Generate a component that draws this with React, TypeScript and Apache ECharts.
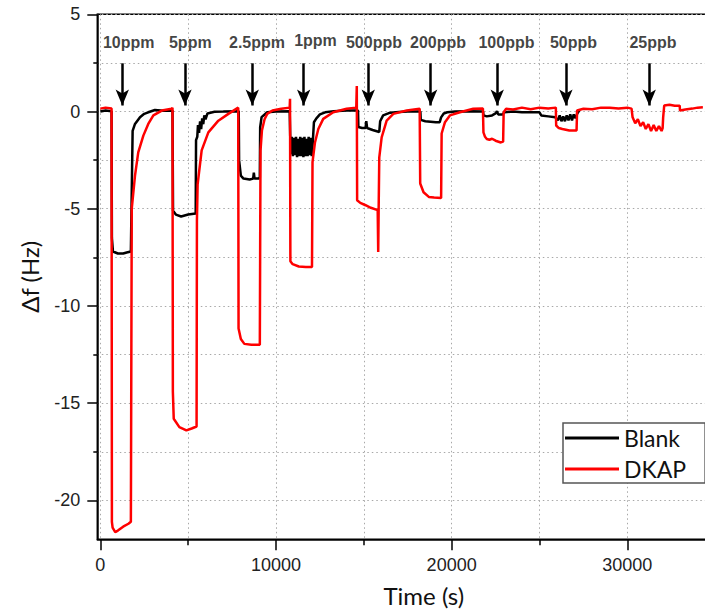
import React, { useEffect, useRef } from 'react';
import * as echarts from 'echarts';

// Blank sensor response: [time (s), Δf (Hz)]
const blankData: [number, number][] = [
  [0, 0.0], [300, 0.05], [640, 0.02],
  [660, -6.5], [720, -7.2], [1000, -7.3], [1300, -7.3], [1500, -7.25], [1740, -7.2],
  [1840, -1.0], [1975, -0.64], [2260, -0.29], [2500, -0.12], [2730, -0.04], [3110, 0.08], [3600, 0.04], [4110, 0.05],
  [4140, -5.1], [4300, -5.3], [4600, -5.4], [5000, -5.3], [5430, -5.25],
  [5450, -1.47], [5520, -1.3], [5560, -0.7], [5620, -1.1], [5680, -0.5], [5740, -0.9], [5800, -0.35], [5860, -0.65],
  [5920, -0.2], [5990, -0.4], [6100, -0.1], [6500, -0.01], [7000, 0.0], [7880, 0.02],
  [7900, -2.5], [8000, -3.3], [8150, -3.45], [8500, -3.5], [8700, -3.45], [8740, -3.15], [8780, -3.45], [9000, -3.45], [9080, -3.4],
  [9100, -0.81], [9180, -0.29], [9500, -0.04], [10000, 0.0], [10780, 0.02],
  [10810, -1.25], [10840, -2.2], [10900, -1.3], [10960, -2.3], [11020, -1.35], [11080, -2.25], [11140, -1.3], [11200, -2.35],
  [11260, -1.4], [11320, -2.3], [11380, -1.3], [11440, -2.3], [11500, -1.35], [11560, -2.35], [11620, -1.3], [11680, -2.3],
  [11740, -1.4], [11800, -2.3], [11860, -1.3], [11920, -2.25], [11980, -1.35], [12040, -2.3], [12100, -1.5],
  [12160, -0.55], [12300, -0.35], [12500, -0.15], [12800, -0.04], [13300, 0.02], [14000, 0.05], [14670, 0.05],
  [14690, -0.8], [14900, -0.85], [15100, -0.85], [15140, -0.5], [15190, -0.85], [15500, -0.95], [15880, -1.05],
  [15930, -0.5], [16100, -0.2], [16500, -0.06], [17000, -0.03], [17500, 0.0], [18220, 0.0],
  [18240, -0.43], [18500, -0.5], [18800, -0.52], [19100, -0.55], [19320, -0.55],
  [19400, -0.3], [19550, -0.1], [19750, -0.04], [20200, 0.0], [21000, 0.02], [21790, 0.0],
  [21810, -0.2], [22000, -0.25], [22300, -0.2], [22500, -0.1], [22580, 0.02], [22650, -0.15], [22900, -0.15], [23000, -0.04],
  [23500, 0.0], [24000, -0.04], [24500, -0.04], [25000, -0.04],
  [25100, -0.2], [25500, -0.25], [25900, -0.3], [26050, -0.45], [26150, -0.2], [26250, -0.5], [26350, -0.25], [26450, -0.5],
  [26550, -0.2], [26650, -0.45], [26750, -0.15], [26850, -0.45], [26950, -0.15], [27050, -0.35], [27150, -0.1], [27280, 0.08],
];

// DKAP sensor response: [time (s), Δf (Hz)]
const dkapData: [number, number][] = [
  [0, 0.15], [300, 0.2], [640, 0.15],
  [660, -21.1], [700, -21.4], [850, -21.63], [1000, -21.55], [1300, -21.35], [1600, -21.2], [1740, -21.1],
  [1790, -5.0], [1975, -3.3], [2160, -2.1], [2450, -1.24], [2730, -0.64], [3020, -0.2], [3500, 0.05], [4060, 0.14], [4110, 0.2],
  [4130, -14.4], [4180, -15.8], [4500, -16.23], [4900, -16.4], [5200, -16.3], [5480, -16.2],
  [5500, -5.6], [5540, -3.74], [5770, -2.0], [6150, -1.07], [6720, -0.47], [7290, -0.12], [7850, 0.2],
  [7870, -11.16], [8000, -11.7], [8200, -11.95], [8600, -12.0], [9080, -12.0],
  [9120, -2.0], [9200, -0.98], [9350, -0.4], [9500, -0.12], [9800, 0.05], [10300, 0.14], [10780, 0.2],
  [10800, 0.66], [10820, -7.7], [10950, -7.85], [11300, -7.97], [11700, -8.0], [12050, -8.0],
  [12080, -2.6], [12220, -1.59], [12410, -0.9], [12690, -0.38], [13260, -0.04], [14020, 0.14], [14570, 0.2],
  [14600, 1.31], [14620, -4.56], [14800, -4.7], [15100, -4.82], [15400, -4.95], [15790, -5.07],
  [15820, -7.22], [15845, -5.0], [15880, -2.36], [16016, -1.33], [16300, -0.47], [16680, -0.12], [17440, 0.05], [18180, 0.14],
  [18210, -3.7], [18400, -4.15], [18700, -4.39], [19000, -4.42], [19400, -4.45],
  [19430, -1.13], [19620, -0.55], [19900, -0.2], [20470, -0.04], [21230, 0.14], [21780, 0.15],
  [21810, -1.07], [21900, -1.3], [22000, -1.41], [22150, -1.45], [22300, -1.4], [22500, -1.5], [22800, -1.59], [22930, -1.55],
  [22960, -0.04], [23100, 0.14], [23500, 0.1], [24000, 0.2], [24500, 0.12], [25000, 0.2], [25500, 0.15], [25930, 0.2],
  [25950, -0.72], [26100, -0.85], [26300, -0.9], [26700, -0.98], [27110, -0.98],
  [27140, 0.05], [27500, 0.14], [28000, 0.12], [28500, 0.2], [29000, 0.2], [29500, 0.15], [30000, 0.2], [30240, 0.15],
  [30300, -0.3], [30450, -0.6], [30600, -0.4], [30750, -0.75], [30900, -0.55], [31050, -0.9], [31200, -0.65], [31350, -1.0],
  [31500, -0.7], [31650, -1.0], [31800, -0.75], [31950, -1.0], [32010, -0.85],
  [32040, -0.3], [32100, 0.31], [32400, 0.35], [32700, 0.3], [32980, 0.3], [33000, 0.05], [33300, 0.1], [33700, 0.15],
  [34000, 0.2], [34300, 0.22],
];

// Annotations
const concLabels = ['10ppm', '5ppm', '2.5ppm', '1ppm', '500ppb', '200ppb', '100ppb', '50ppb', '25ppb'];
const arrowX = [1252, 4820, 8650, 11576, 15253, 18805, 22595, 26505, 31247];
const labelX = [1616, 5122, 8919, 12249, 15578, 19222, 23120, 26934, 31459];
const labelY = [3.54, 3.54, 3.54, 3.67, 3.54, 3.54, 3.54, 3.54, 3.54];
const arrowTop = 2.48;
const arrowTip = 0.31;

// Axis ticks
const xMajorTicks = [0, 10000, 20000, 30000];
const xMinorTicks = [5000, 15000, 25000, 35000];
const yMajorTicks = [-20, -15, -10, -5, 0, 5];
const yMinorTicks = [-17.5, -12.5, -7.5, -2.5, 2.5];

const X_MIN = -171;
const X_MAX = 37000;
const Y_MIN = -22;
const Y_MAX = 5;

export default function App() {
  const ref = useRef<HTMLDivElement>(null);

  useEffect(() => {
    if (!ref.current) return;
    const chart = echarts.init(ref.current, undefined, { renderer: 'svg' });
    const gridLine = { show: true, lineStyle: { color: '#a8a8a8', type: [1.5, 3] as any, width: 1 } };
    const axisFont = { fontFamily: 'Liberation Sans, Arial, sans-serif', fontSize: 18, color: '#222' };
    const nameFont = { fontFamily: 'Lato, Open Sans, sans-serif', fontSize: 24, color: '#111' };
    const plain = (v: number) => String(v);

    chart.setOption({
      animation: false,
      backgroundColor: '#fff',
      grid: {
        left: 97.3, top: 14.3, width: 653, height: 525,
        outerBoundsMode: 'none', containLabel: false,
        show: true, borderColor: '#000', borderWidth: 1.5, backgroundColor: 'transparent',
      },
      xAxis: [
        {
          type: 'value', min: X_MIN, max: X_MAX, position: 'bottom',
          axisLine: { show: true, onZero: false, lineStyle: { color: '#000', width: 1.5 } },
          axisTick: { show: true, customValues: xMajorTicks, length: 11, lineStyle: { color: '#000', width: 1.5 } },
          axisLabel: { show: true, customValues: xMajorTicks, margin: 17, formatter: plain, ...axisFont },
          splitLine: gridLine,
          name: 'Time (s)', nameLocation: 'middle', nameGap: 44, nameTextStyle: nameFont,
        },
        {
          type: 'value', min: X_MIN, max: X_MAX, position: 'bottom',
          axisLine: { show: false, onZero: false },
          axisTick: { show: true, customValues: xMinorTicks, length: 6, lineStyle: { color: '#000', width: 1.5 } },
          axisLabel: { show: false, customValues: xMinorTicks },
          splitLine: gridLine,
        },
      ],
      yAxis: [
        {
          type: 'value', min: Y_MIN, max: Y_MAX, position: 'left',
          axisLine: { show: true, onZero: false, lineStyle: { color: '#000', width: 1.5 } },
          axisTick: { show: true, customValues: yMajorTicks, length: 10, lineStyle: { color: '#000', width: 1.5 } },
          axisLabel: { show: true, customValues: yMajorTicks, margin: 17, formatter: plain, ...axisFont },
          splitLine: gridLine,
          name: 'Δf (Hz)', nameLocation: 'middle', nameGap: 56, nameTextStyle: nameFont,
        },
        {
          type: 'value', min: Y_MIN, max: Y_MAX, position: 'left',
          axisLine: { show: false, onZero: false },
          axisTick: { show: true, customValues: yMinorTicks, length: 4, lineStyle: { color: '#000', width: 1.5 } },
          axisLabel: { show: false, customValues: yMinorTicks },
          splitLine: gridLine,
        },
      ],
      legend: {
        data: [
          { name: 'Blank', icon: 'rect', itemStyle: { color: '#000' } },
          { name: 'DKAP', icon: 'rect', itemStyle: { color: '#ff0000' } },
        ],
        orient: 'vertical', left: 563, top: 423,
        itemWidth: 54, itemHeight: 3, itemGap: 7,
        padding: [3, 19, 2, 2],
        borderColor: '#555', borderWidth: 1.5, backgroundColor: '#fff',
        textStyle: { fontFamily: 'Lato, Open Sans, sans-serif', fontSize: 23, lineHeight: 24, color: '#111' },
      },
      series: [
        {
          type: 'line', name: 'Blank', data: blankData, xAxisIndex: 0, yAxisIndex: 0,
          symbol: 'none', showSymbol: false,
          lineStyle: { color: '#000', width: 2.5 }, itemStyle: { color: '#000' }, z: 2,
        },
        {
          type: 'line', name: 'DKAP', data: dkapData, xAxisIndex: 0, yAxisIndex: 0,
          symbol: 'none', showSymbol: false,
          lineStyle: { color: '#ff0000', width: 2.5 }, itemStyle: { color: '#ff0000' }, z: 3,
        },
        {
          type: 'scatter', name: 'labels', xAxisIndex: 0, yAxisIndex: 0,
          data: concLabels.map((t, i) => [labelX[i], labelY[i], t]),
          symbolSize: 0, silent: true, z: 5,
          label: {
            show: true, position: 'inside', formatter: (p: any) => p.data[2],
            fontFamily: 'Liberation Sans, Arial, sans-serif', fontWeight: 'bold', fontSize: 16, color: '#111',
          },
          markLine: {
            silent: true, animation: false,
            symbol: ['none', 'arrow'], symbolSize: [10, 16],
            lineStyle: { color: '#000', width: 2.5, type: 'solid' },
            label: { show: false },
            data: arrowX.map((x) => [{ coord: [x, arrowTop] }, { coord: [x, arrowTip] }]),
          },
        },
      ],
    });
    return () => chart.dispose();
  }, []);

  return <div ref={ref} style={{ position: 'fixed', left: 0, top: 0, width: 705, height: 612 }} />;
}
